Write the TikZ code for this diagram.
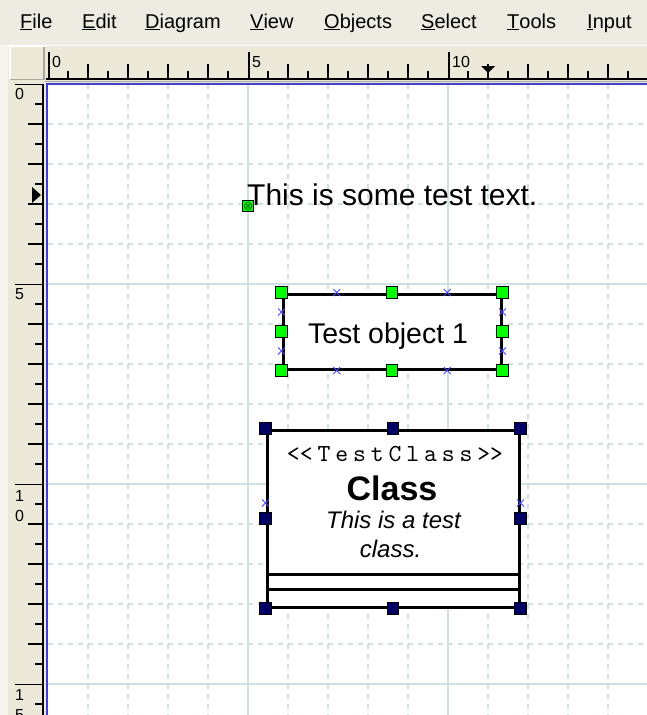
\documentclass[tikz,border=0pt]{standalone}
\usepackage{fontspec}
\setmainfont{Liberation Sans}
\newfontfamily\monoclass{lmmono10-regular.otf}[LetterSpace=20,Ligatures=TeXOff]
\usetikzlibrary{shapes.misc,calc}
\definecolor{menubg}{RGB}{238,236,226}
\definecolor{rulerbg}{RGB}{236,233,216}
\definecolor{stripbg}{RGB}{246,245,239}
\definecolor{gridc}{RGB}{208,224,224}
\definecolor{canvasblue}{RGB}{64,64,204}
\definecolor{hgreen}{RGB}{0,255,0}
\definecolor{hdkgreen}{RGB}{0,110,0}
\definecolor{hnavy}{RGB}{0,0,100}
\definecolor{cpblue}{RGB}{70,70,255}
\definecolor{edgegrey}{RGB}{170,168,155}
\begin{document}
\begin{tikzpicture}[x=1pt,y=-1pt,
  gridminor/.style={draw=gridc, line width=1.6, dash pattern=on 5pt off 5pt},
  gridmajor/.style={draw=gridc, line width=1.6},
  tickline/.style={line width=1.6, draw=black},
  rulerlabel/.style={font=\fontsize{16}{20}\selectfont, inner sep=0, anchor=north west, align=left},
  menuitem/.style={font=\fontsize{20}{24}\selectfont, inner sep=0, anchor=base west},
  ghandle/.style={draw=black, fill=hgreen, line width=1, minimum size=11.5, inner sep=0},
  nhandle/.style={draw=black, fill=hnavy, line width=1, minimum size=11.5, inner sep=0},
  cpx/.style={cross out, draw=cpblue, line width=1, minimum size=6, inner sep=0},
  objbox/.style={draw=black, fill=white, line width=3, inner sep=0},
]
\useasboundingbox (0,0) rectangle (647,715);
% backgrounds
\fill[menubg] (0,0) rectangle (647,45);
\fill[rulerbg] (0,46) rectangle (647,84);
\fill[rulerbg] (0,46) rectangle (46,715);
\fill[stripbg] (0,46) rectangle (8,715);
\draw[white, line width=1.2] (0,45.4) -- (647,45.4);
% corner box
\fill[rulerbg] (10,46) rectangle (44,80);
\draw[white, line width=1.2] (10,80) -- (10,46.5) -- (44,46.5);
\draw[edgegrey, line width=1.2] (10,79.5) -- (44,79.5) -- (44,46.5);
% canvas
\fill[white] (46,84) rectangle (647,715);
% grid
\foreach \k in {1,2,3,4,6,7,8,9,11,12,13,14}
  \draw[gridminor] (48+40*\k,84) -- (48+40*\k,715);
\foreach \k in {1,2,3,4,6,7,8,9,11,12,13,14,16}
  \draw[gridminor] (48,84+40*\k) -- (647,84+40*\k);
\foreach \k in {5,10}
  \draw[gridmajor] (48+40*\k,84) -- (48+40*\k,715);
\foreach \k in {5,10,15}
  \draw[gridmajor] (48,84+40*\k) -- (647,84+40*\k);
% canvas border
\draw[black!35, line width=0.8] (45,81.5) -- (647,81.5);
\draw[canvasblue, line width=2] (47,715) -- (47,83.5) -- (647,83.5);
% horizontal ruler
\draw[line width=2] (46,79) -- (647,79);
\foreach \k in {0,...,14}
  \draw[tickline] (68+40*\k,71) -- (68+40*\k,79);
\foreach \k in {1,2,3,4,6,7,8,9,11,12,13,14}
  \draw[tickline] (48+40*\k,64) -- (48+40*\k,79);
\foreach \k in {0,5,10}
  \draw[tickline] (49+40*\k,52) -- (49+40*\k,79);
\node[rulerlabel] (h0) at (52,56) {0};
\node[rulerlabel] (h5) at (252,56) {5};
\node[rulerlabel] (h10) at (452,56) {10};
\fill (481,66) -- (495,66) -- (488,73) -- cycle;
% vertical ruler
\draw[line width=2.6] (43,84) -- (43,715);
\foreach \k in {0,...,15}
  \draw[tickline] (35,104+40*\k) -- (42,104+40*\k);
\foreach \k in {1,2,3,4,6,7,8,9,11,12,13,14,16}
  \draw[tickline] (28,84+40*\k) -- (42,84+40*\k);
\foreach \k in {0,5,10,15}
  \draw[tickline] (15,84.5+40*\k) -- (42,84.5+40*\k);
\node[rulerlabel] (v0) at (15,88) {0};
\node[rulerlabel] (v5) at (15,288) {5};
\node[rulerlabel] (v10) at (15,490) {1\\0};
\node[rulerlabel] (v15) at (15,689) {1\\5};
\fill (32,187) -- (41,195) -- (32,203) -- cycle;
% menu
\node[menuitem] (mFile) at (20,28) {\underline{F}ile};
\node[menuitem] (mEdit) at (82,28) {\underline{E}dit};
\node[menuitem] (mDiagram) at (145,28) {\underline{D}iagram};
\node[menuitem] (mView) at (250,28) {\underline{V}iew};
\node[menuitem] (mObjects) at (324,28) {\underline{O}bjects};
\node[menuitem] (mSelect) at (421,28) {\underline{S}elect};
\node[menuitem] (mTools) at (507,28) {\underline{T}ools};
\node[menuitem] (mInput) at (587,28) {\underline{I}nput};
% text object
\node[anchor=base west, inner sep=0, font=\fontsize{30}{36}\selectfont] (txt) at (247,205) {This is some test text.};
\node[ghandle] (txth) at (248,206) {};
\draw[hdkgreen, line width=0.8] (txth.center) circle (3.6);
\draw[hdkgreen, line width=0.8] ($(txth.center)+(-2.5,-2.5)$) -- ($(txth.center)+(2.5,2.5)$);
\draw[hdkgreen, line width=0.8] ($(txth.center)+(-2.5,2.5)$) -- ($(txth.center)+(2.5,-2.5)$);
% test object 1
\node[objbox, minimum width=218, minimum height=75, font=\fontsize{28.5}{34}\selectfont] (obj) at (392,331.5) {};
\node[anchor=base, inner sep=0, font=\fontsize{28.5}{34}\selectfont] (objtext) at (388,343) {Test object 1};
\foreach \p in {0.25,0.75} {
  \node[cpx] at ($(obj.north west)!\p!(obj.north east)$) {};
  \node[cpx] at ($(obj.south west)!\p!(obj.south east)$) {};
  \node[cpx] at ($(obj.north west)!\p!(obj.south west)$) {};
  \node[cpx] at ($(obj.north east)!\p!(obj.south east)$) {};
}
\foreach \a in {north west,north,north east,west,east,south west,south,south east}
  \node[ghandle] at (obj.\a) {};
% class
\node[objbox, minimum width=252, minimum height=177] (cls) at (393,518.5) {};
\draw[line width=3] (cls.west |- 0,574) -- (cls.east |- 0,574);
\draw[line width=3] (cls.west |- 0,589) -- (cls.east |- 0,589);
\node[anchor=base, inner sep=0, font=\monoclass\fontsize{24.5}{28}\selectfont] (stereo) at (395,461) {<\kern0pt<TestClass>\kern0pt>};
\node[anchor=base, inner sep=0, font=\bfseries\fontsize{34}{40}\selectfont] (cname) at (392,500) {Class};
\node[anchor=base, inner sep=0, font=\itshape\fontsize{24}{28}\selectfont] (cdesc1) at (393.5,528) {This is a test};
\node[anchor=base, inner sep=0, font=\itshape\fontsize{24}{28}\selectfont] (cdesc2) at (390.5,557) {class.};
\node[cpx] at (cls.west |- 0,503) {};
\node[cpx] at (cls.east |- 0,503) {};
\foreach \a in {north west,north,north east,west,east,south west,south,south east}
  \node[nhandle] at (cls.\a) {};
\end{tikzpicture}
\end{document}
